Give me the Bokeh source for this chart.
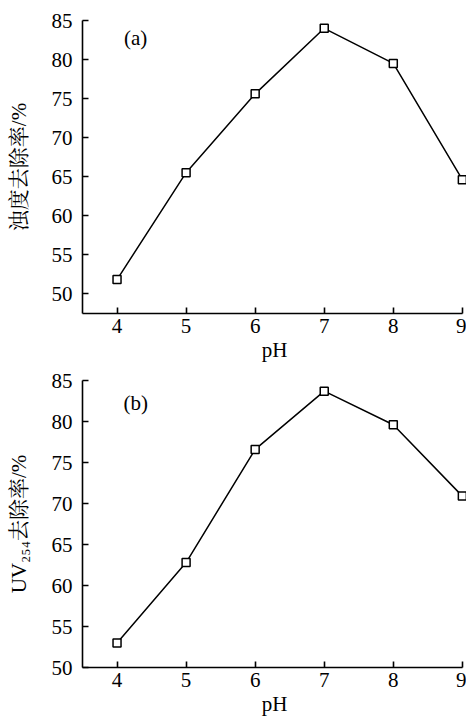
from bokeh.plotting import figure
from bokeh.layouts import column
from bokeh.models import Range1d, Label, FixedTicker
from bokeh.embed import file_html
from bokeh.resources import INLINE

ph = [4, 5, 6, 7, 8, 9]
turbidity_removal = [51.8, 65.5, 75.6, 84.0, 79.5, 64.6]
uv254_removal = [53.0, 62.8, 76.6, 83.7, 79.6, 70.9]
y_ticks = [50, 55, 60, 65, 70, 75, 80, 85]
x_ticks = [4, 5, 6, 7, 8, 9]

SERIF = "'Liberation Serif', 'Noto Serif CJK SC', 'Noto Sans CJK SC'"


def make_panel(y, ylabel, tag, height, ystart, top_border, tag_y):
    p = figure(width=466, height=height, output_backend="svg", toolbar_location=None,
               x_range=Range1d(3.5, 9.06), y_range=Range1d(ystart, 85),
               min_border_left=82, min_border_right=0, min_border_top=top_border,
               min_border_bottom=40)
    p.outline_line_color = None
    p.grid.grid_line_color = None
    p.background_fill_color = "white"
    p.border_fill_color = "white"
    for ax in (p.xaxis[0], p.yaxis[0]):
        ax.axis_line_width = 1.6
        ax.axis_line_color = "black"
        ax.major_tick_line_color = "black"
        ax.major_tick_line_width = 1.6
        ax.major_tick_in = 6
        ax.major_tick_out = 0
        ax.minor_tick_line_color = None
        ax.major_label_text_font = SERIF
        ax.major_label_text_font_size = "21px"
        ax.major_label_text_color = "black"
        ax.axis_label_text_font = SERIF
        ax.axis_label_text_font_style = "normal"
        ax.axis_label_text_color = "black"
    p.xaxis.ticker = FixedTicker(ticks=x_ticks)
    p.yaxis.ticker = FixedTicker(ticks=y_ticks)
    p.xaxis.bounds = (3.5, 9)
    p.xaxis.axis_label = "pH"
    p.xaxis.axis_label_text_font_size = "21px"
    p.xaxis.major_label_standoff = 5
    p.xaxis.axis_label_standoff = 2
    p.yaxis.axis_label = ylabel
    p.yaxis.axis_label_text_font_size = "21px"
    p.yaxis.major_label_standoff = 10
    p.yaxis.axis_label_standoff = 18
    p.line(ph, y, line_color="black", line_width=1.5)
    p.scatter(ph, y, marker="square", size=8, line_color="black", line_width=1.5,
              fill_color="white")
    p.add_layout(Label(x=4.27, y=tag_y, text=tag, text_font=SERIF, text_font_size="21px",
                       text_align="center", text_baseline="middle", text_color="black"))
    return p


top = make_panel(turbidity_removal, "浊度去除率/%", "(a)", 364, 47.45, 20, 82.75)
bottom = make_panel(uv254_removal, "UV₂₅₄去除率/%", "(b)", 354, 50, 16, 82.3)

layout = column(top, bottom, spacing=0)
open("out.html", "w").write(file_html(layout, INLINE))
